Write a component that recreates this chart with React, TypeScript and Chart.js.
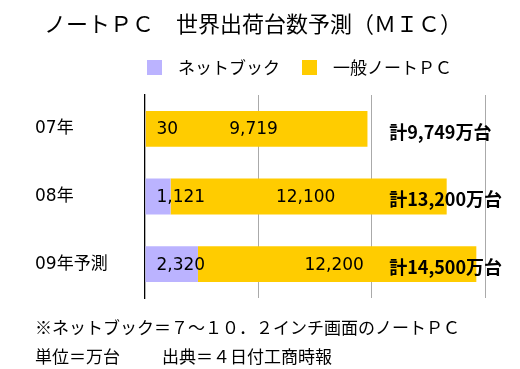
import React, { useEffect, useRef } from "react";
import { Chart, registerables } from "chart.js";

Chart.register(...registerables);

const categories = ["07年", "08年", "09年予測"];
const netbook = [30, 1121, 2320];
const generalPC = [9719, 12100, 12200];
const totalLabels = ["計9,749万台", "計13,200万台", "計14,500万台"];
const seriesNames = ["ネットブック", "一般ノートＰＣ"];
const titleText = "ノートＰＣ　世界出荷台数予測（ＭＩＣ）";
const noteLine1 = "※ネットブック＝７～１０．２インチ画面のノートＰＣ";
const noteLine2a = "単位＝万台";
const noteLine2b = "出典＝４日付工商時報";

const X_MAX = 14900;
const TOTAL_LABEL_VALUE = 10700;
const FONT = '"Noto Sans CJK JP", "Noto Sans", sans-serif';
const NUM_FONT = '"DejaVu Sans", "Noto Sans CJK JP", sans-serif';
const PURPLE = "#bbb3ff";
const YELLOW = "#ffcc00";

const textPlugin = {
  id: "textPlugin",
  afterDatasetsDraw(chart: any) {
    const ctx = chart.ctx;
    const xScale = chart.scales.x;
    ctx.save();
    ctx.fillStyle = "#000";
    ctx.textBaseline = "middle";
    // data labels
    ctx.font = `17px ${NUM_FONT}`;
    const m0 = chart.getDatasetMeta(0);
    const m1 = chart.getDatasetMeta(1);
    m0.data.forEach((el: any, i: number) => {
      ctx.textAlign = "left";
      ctx.fillText(netbook[i].toLocaleString("en-US"), el.base + 11, el.y + 1);
    });
    m1.data.forEach((el: any, i: number) => {
      ctx.textAlign = "center";
      ctx.fillText(generalPC[i].toLocaleString("en-US"), (el.base + el.x) / 2 - 3, el.y + 1);
    });
    // totals
    ctx.font = `bold 18px ${FONT}`;
    ctx.textAlign = "left";
    const tx = xScale.getPixelForValue(TOTAL_LABEL_VALUE);
    m1.data.forEach((el: any, i: number) => {
      ctx.fillText(totalLabels[i], tx, el.y + 3);
    });
    ctx.restore();
  },
  afterDraw(chart: any) {
    const ctx = chart.ctx;
    ctx.save();
    ctx.fillStyle = "#000";
    ctx.textBaseline = "middle";
    // title
    ctx.font = `22px ${FONT}`;
    ctx.textAlign = "center";
    ctx.fillText(titleText, 253, 24);
    // legend
    ctx.font = `17px ${FONT}`;
    ctx.textAlign = "left";
    const legendX = [147, 302];
    chart.data.datasets.forEach((ds: any, i: number) => {
      ctx.fillStyle = ds.backgroundColor;
      ctx.fillRect(legendX[i], 60, 15, 15);
      ctx.fillStyle = "#000";
      ctx.fillText(ds.label, legendX[i] + 31, 68);
    });
    // footnotes
    ctx.fillText(noteLine1, 35, 328);
    ctx.fillText(noteLine2a, 35, 357);
    ctx.fillText(noteLine2b, 162, 357);
    ctx.restore();
  },
};

export default function App() {
  const ref = useRef<HTMLCanvasElement>(null);
  useEffect(() => {
    const chart = new Chart(ref.current!, {
      type: "bar",
      data: {
        labels: categories,
        datasets: [
          { label: seriesNames[0], data: netbook, backgroundColor: PURPLE, borderWidth: 0 },
          { label: seriesNames[1], data: generalPC, backgroundColor: YELLOW, borderWidth: 0 },
        ],
      },
      options: {
        indexAxis: "y",
        animation: false,
        responsive: false,
        maintainAspectRatio: false,
        layout: { padding: { left: 35, right: 35, top: 95, bottom: 71 } },
        datasets: { bar: { categoryPercentage: 1, barPercentage: 0.53 } },
        plugins: { legend: { display: false }, title: { display: false }, tooltip: { enabled: false } },
        scales: {
          x: {
            stacked: true,
            min: 0,
            max: X_MAX,
            afterBuildTicks: (scale: any) => {
              scale.ticks = [0, 1, 2, 3].map((k) => ({ value: (X_MAX * k) / 3 }));
            },
            afterFit: (scale: any) => {
              scale.height = 0;
            },
            ticks: { display: false },
            border: { display: false },
            grid: {
              drawTicks: false,
              color: (c: any) => (c.index === 0 ? "rgba(0,0,0,0)" : "#aaaaaa"),
              lineWidth: 1,
            },
          },
          y: {
            stacked: true,
            afterFit: (scale: any) => {
              scale.width = 110;
            },
            grid: { display: false },
            border: { display: true, color: "#000", width: 1.3 },
            ticks: {
              crossAlign: "far",
              color: "#000",
              font: { family: NUM_FONT, size: 17 },
            },
          },
        },
      },
      plugins: [textPlugin],
    });
    return () => chart.destroy();
  }, []);
  return (
    <div style={{ position: "absolute", left: 0, top: 0, width: 520, height: 369, background: "#fff" }}>
      <canvas ref={ref} width={520} height={369} style={{ display: "block", width: 520, height: 369 }} />
    </div>
  );
}
